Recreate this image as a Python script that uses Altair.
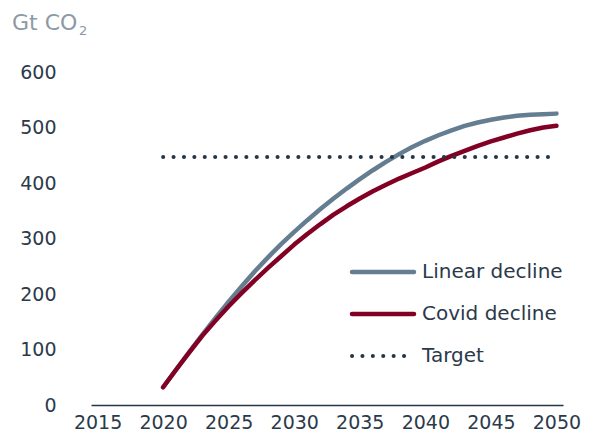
import altair as alt
import pandas as pd

# ---- data ----
years = list(range(2020, 2051))
linear_decline = [32, 64, 96, 127, 157, 186, 214, 241, 266, 290,
                  312, 333, 353, 372, 390, 407, 423, 438, 452, 465,
                  476, 486, 495, 503, 509, 514, 518, 521, 523, 524, 525]
covid_decline = [32, 64, 95, 125, 152, 178, 202, 225, 247, 268,
                 289, 308, 326, 343, 358, 372, 385, 397, 408, 418,
                 428, 439, 449, 458, 467, 475, 482, 489, 495, 500, 503]
target_years = [2020, 2050]
target_values = [447, 447]

series_names = ["Linear decline", "Covid decline", "Target"]
series_colors = ["#647D91", "#820024", "#253746"]
y_ticks = [0, 100, 200, 300, 400, 500, 600]
x_ticks = [2015, 2020, 2025, 2030, 2035, 2040, 2045, 2050]
unit_main = "Gt CO"
unit_sub = "2"

FONT = "DejaVu Sans"
TEXT = "#2B3A4A"
UNIT_COLOR = "#8C9AA6"

df_lin = pd.DataFrame({"year": years, "value": linear_decline, "series": series_names[0]})
df_cov = pd.DataFrame({"year": years, "value": covid_decline, "series": series_names[1]})
df_tgt = pd.DataFrame({"year": target_years, "value": target_values, "series": series_names[2]})

x_enc = alt.X("year:Q",
              scale=alt.Scale(domain=[2014.5, 2050.5], nice=False, zero=False),
              axis=alt.Axis(values=x_ticks, format="d", title=None, grid=False,
                            ticks=False, domain=True, domainColor="#253746",
                            domainWidth=1.5, labelFontSize=19, labelColor=TEXT,
                            labelFont=FONT, labelPadding=8, labelFlush=False))
y_enc = alt.Y("value:Q",
              scale=alt.Scale(domain=[0, 600], nice=False),
              axis=alt.Axis(values=y_ticks, title=None, grid=False, ticks=False,
                            domain=False, labelFontSize=19, labelColor=TEXT,
                            labelFont=FONT, labelPadding=35))

lin = alt.Chart(df_lin).mark_line(color=series_colors[0], strokeWidth=4.5,
                                  strokeCap="round", strokeJoin="round").encode(x=x_enc, y=y_enc)
cov = alt.Chart(df_cov).mark_line(color=series_colors[1], strokeWidth=4.5,
                                  strokeCap="round", strokeJoin="round").encode(x="year:Q", y="value:Q")
tgt = alt.Chart(df_tgt).mark_line(color=series_colors[2], strokeWidth=4,
                                  strokeCap="round", strokeDash=[0.1, 10.3]).encode(x="year:Q", y="value:Q")

# ---- manual legend ----
legend_layers = []
row_y0, row_gap = 200, 42
for i, name in enumerate(series_names):
    ldf = pd.DataFrame({"label": [name]})
    yy = row_y0 + row_gap * i
    props = dict(color=series_colors[i], strokeWidth=4.5, strokeCap="round")
    if name == "Target":
        props = dict(color=series_colors[i], strokeWidth=4, strokeCap="round",
                     strokeDash=[0.1, 10.3])
    legend_layers.append(
        alt.Chart(ldf).mark_rule(**props).encode(
            x=alt.value(261), x2=alt.value(323), y=alt.value(yy)))
    legend_layers.append(
        alt.Chart(ldf).mark_text(align="left", baseline="middle", font=FONT,
                                 fontSize=20, color=TEXT).encode(
            text="label:N", x=alt.value(331), y=alt.value(yy)))

title_main = alt.Chart(pd.DataFrame({"t": [unit_main]})).mark_text(
    align="left", baseline="alphabetic", font=FONT, fontSize=22, color=UNIT_COLOR
).encode(text="t:N", x=alt.value(-79), y=alt.value(-42))
title_sub = alt.Chart(pd.DataFrame({"t": [unit_sub]})).mark_text(
    align="left", baseline="alphabetic", font=FONT, fontSize=13, color=UNIT_COLOR
).encode(text="t:N", x=alt.value(-12), y=alt.value(-37))

chart = alt.layer(lin, cov, tgt, *legend_layers, title_main, title_sub).properties(
    width=472, height=333,
    autosize="none",
    padding={"left": 83, "top": 64, "right": 24, "bottom": 30},
).configure_view(stroke=None)

chart.save("out.html", embed_options={"renderer": "svg", "actions": False})
